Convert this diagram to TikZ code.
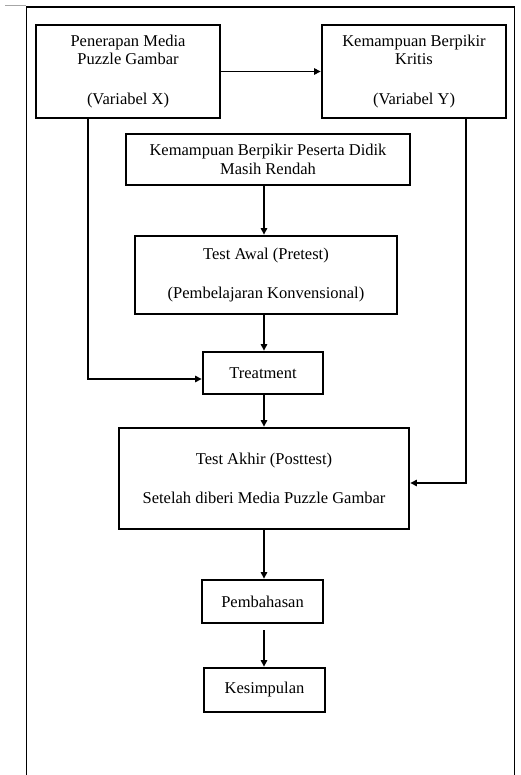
\documentclass[tikz,border=0pt]{standalone}
\usepackage{fontspec}
\setmainfont{Liberation Serif}
\usetikzlibrary{arrows.meta}
\begin{document}
\begin{tikzpicture}[x=1pt,y=-1pt,
  box/.style={draw,line width=2.8pt,align=center,inner sep=0pt,
    font=\fontsize{16.5}{18.5}\selectfont},
  arr/.style={line width=1.1pt,-{Triangle[length=6.5pt,width=6.5pt]}}]
\useasboundingbox (0,0) rectangle (521,775);
% outer frame
\draw[gray!70,line width=1pt] (5,5.5) -- (26,5.5);
\draw[line width=1.3pt] (26.5,790) -- (26.5,7) -- (514.5,7) -- (514.5,790);
% boxes
\node[box,minimum width=184pt,minimum height=93pt] (b1) at (128,71.5)
  {Penerapan Media\\Puzzle Gambar\\[21pt](Variabel X)};
\node[box,minimum width=184pt,minimum height=93pt] (b2) at (414,71.5)
  {Kemampuan Berpikir\\Kritis\\[21pt](Variabel Y)};
\node[box,line width=2.3pt,minimum width=284pt,minimum height=51pt] (b3) at (268,159.5)
  {Kemampuan Berpikir Peserta Didik\\Masih Rendah};
\node[box,minimum width=262pt,minimum height=78pt] (b4) at (266,275)
  {Test Awal (Pretest)\\[21pt](Pembelajaran Konvensional)};
\node[box,minimum width=120pt,minimum height=42pt] (tr) at (263,373)
  {Treatment};
\node[box,minimum width=290pt,minimum height=101pt] (ta) at (264,478.5)
  {Test Akhir (Posttest)\\[21pt]Setelah diberi Media Puzzle Gambar};
\node[box,minimum width=121pt,minimum height=43pt] (pb) at (262.5,601.5)
  {Pembahasan};
\node[box,minimum width=121pt,minimum height=44pt] (ks) at (264.5,690)
  {Kesimpulan};
% connectors
\draw[arr] (b1.east) -- (b2.west);
\draw[arr] (b3.south -| 264,0) -- (b4.north -| 264,0);
\draw[arr] (b4.south -| 264,0) -- (tr.north -| 264,0);
\draw[arr] (tr.south -| 264,0) -- (ta.north -| 264,0);
\draw[arr] (ta.south -| 264,0) -- (pb.north -| 264,0);
\draw[arr] ([yshift=-6pt]pb.south -| 264,0) -- (ks.north -| 264,0);
\draw[arr] ([xshift=-40pt]b1.south) |- ([yshift=-6pt]tr.west);
\draw[arr] ([xshift=52pt]b2.south) |- ([yshift=-4.5pt]ta.east);
\end{tikzpicture}
\end{document}
